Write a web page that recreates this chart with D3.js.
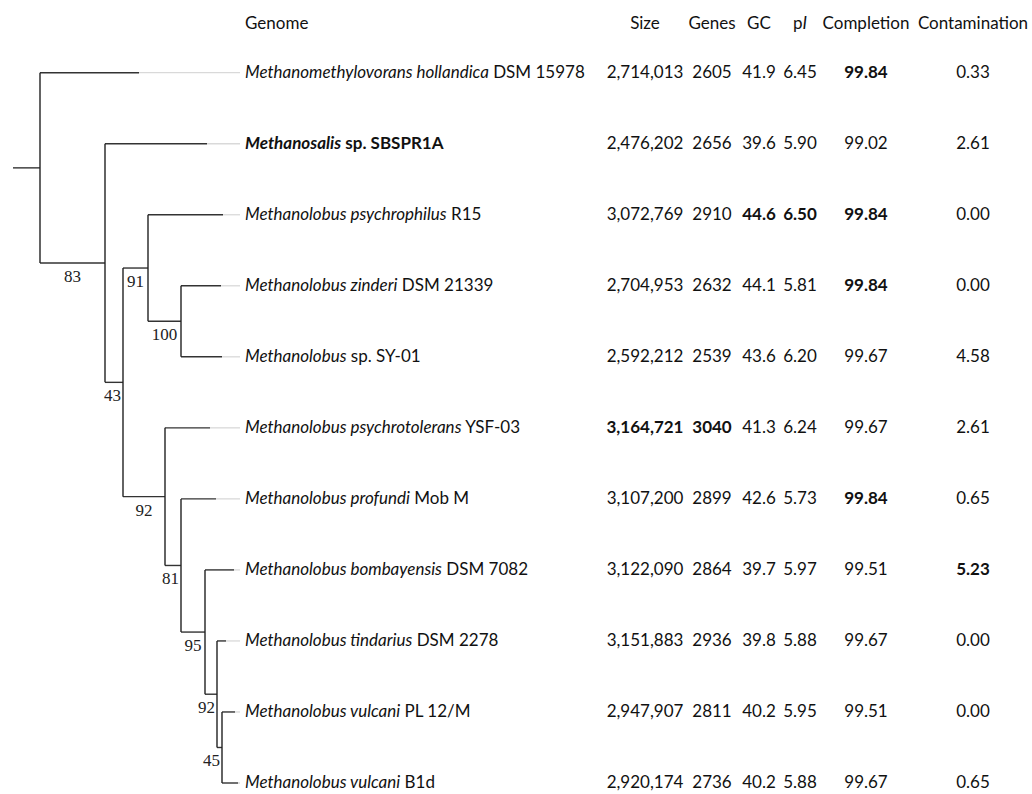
<!DOCTYPE html>
<html>
<head>
<meta charset="utf-8">
<script src="https://cdn.jsdelivr.net/npm/d3@7"></script>
<style>
  body { margin: 0; background: #fff; }
  svg { display: block; }
</style>
</head>
<body>
<svg id="chart" width="1032" height="794"></svg>
<script>
// genome table, one entry per leaf, top to bottom
genus   = ["Methanomethylovorans hollandica", "Methanosalis", "Methanolobus psychrophilus", "Methanolobus zinderi",
           "Methanolobus", "Methanolobus psychrotolerans", "Methanolobus profundi", "Methanolobus bombayensis",
           "Methanolobus tindarius", "Methanolobus vulcani", "Methanolobus vulcani"]
strain  = ["DSM 15978", "sp. SBSPR1A", "R15", "DSM 21339", "sp. SY-01", "YSF-03", "Mob M", "DSM 7082", "DSM 2278", "PL 12/M", "B1d"]
sizes   = [2714013, 2476202, 3072769, 2704953, 2592212, 3164721, 3107200, 3122090, 3151883, 2947907, 2920174]
genes   = [2605, 2656, 2910, 2632, 2539, 3040, 2899, 2864, 2936, 2811, 2736]
gc      = [41.9, 39.6, 44.6, 44.1, 43.6, 41.3, 42.6, 39.7, 39.8, 40.2, 40.2]
pI      = [6.45, 5.90, 6.50, 5.81, 6.20, 6.24, 5.73, 5.97, 5.88, 5.95, 5.88]
completion    = [99.84, 99.02, 99.84, 99.84, 99.67, 99.67, 99.84, 99.51, 99.67, 99.51, 99.67]
contamination = [0.33, 2.61, 0.00, 0.00, 4.58, 2.61, 0.65, 5.23, 0.00, 0.00, 0.65]
highlight = 1   // the new genome, printed in bold

// tree: node ids, parents, branch lengths, bootstrap support
nodeIds   = ["root", "L0", "A", "L1", "B", "C", "L2", "E", "L3", "L4", "F", "L5", "G", "L6", "H", "L7", "I", "L8", "J", "L9", "L10"]
parentIds = ["",     "root", "root", "A", "A", "B", "C", "C", "E", "E", "B", "F", "F", "G", "G", "H", "H", "I", "I", "J", "J"]
branchLen = [0.027, 0.099, 0.065, 0.102, 0.018, 0.025, 0.075, 0.033, 0.040, 0.041, 0.042, 0.045, 0.016, 0.035, 0.024, 0.029, 0.012, 0.009, 0.005, 0.013, 0.016]
support   = [null, null, 83, null, 43, 91, null, 100, null, null, 92, null, 81, null, 95, null, 92, null, 45, null, null]

headers = ["Size", "Genes", "GC", "pI", "Completion", "Contamination"]

width = 1032
height = 794
svg = d3.select("#chart")

sans = "Lato, 'Open Sans', sans-serif"
serif = "'Liberation Serif', 'DejaVu Serif', serif"

// build the tree
rows = nodeIds.map((id, i) => ({id: id, parent: parentIds[i], len: branchLen[i], support: support[i]}))
root = d3.stratify().id(d => d.id).parentId(d => d.parent || null)(rows)

root.eachBefore(d => { d.dist = (d.parent ? d.parent.dist : 0) + d.data.len })

xScale = d3.scaleLinear().domain([0, 0.227]).range([13, 240])
yScale = d3.scaleLinear().domain([0, genus.length - 1]).range([72.7, 783])

leafOrder = ["L0", "L1", "L2", "L3", "L4", "L5", "L6", "L7", "L8", "L9", "L10"]
root.leaves().forEach(d => { d.row = leafOrder.indexOf(d.id); d.y = yScale(d.row) })
root.eachAfter(d => {
    if(d.children){
        d.children.sort((a, b) => a.y - b.y)
        d.y = (d.children[0].y + d.children[d.children.length-1].y) / 2
    }
})

guideEnd = 240

tree = svg.append("g")

// grey guides from leaf tips to the names
tree.selectAll("line.guide")
    .data(root.leaves())
    .join("line")
    .attr("class", "guide")
    .attr("x1", d => xScale(d.dist))
    .attr("x2", guideEnd)
    .attr("y1", d => d.y).attr("y2", d => d.y)
    .attr("stroke", "#d9d9d9")
    .attr("stroke-width", 1.3)

// horizontal branches (root stem included)
tree.selectAll("line.branch")
    .data(root.descendants())
    .join("line")
    .attr("class", "branch")
    .attr("x1", d => xScale(d.parent ? d.parent.dist : 0))
    .attr("x2", d => xScale(d.dist))
    .attr("y1", d => d.y).attr("y2", d => d.y)
    .attr("stroke", "#333")
    .attr("stroke-width", 1.4)

// vertical connectors
tree.selectAll("line.connector")
    .data(root.descendants().filter(d => d.children))
    .join("line")
    .attr("class", "connector")
    .attr("x1", d => xScale(d.dist)).attr("x2", d => xScale(d.dist))
    .attr("y1", d => d.children[0].y)
    .attr("y2", d => d.children[d.children.length-1].y)
    .attr("stroke", "#222")
    .attr("stroke-width", 1.4)

// support values under the incoming branch
tree.selectAll("text.support")
    .data(root.descendants().filter(d => d.data.support != null))
    .join("text")
    .attr("class", "support")
    .attr("font-family", serif)
    .attr("font-size", 17)
    .attr("fill", "#222")
    .attr("y", d => d.y + 19)
    .attr("text-anchor", "middle")
    .text(d => d.data.support)
    .each(function(d){
        w = this.getComputedTextLength()
        mid = (xScale(d.parent.dist) + xScale(d.dist)) / 2
        d3.select(this).attr("x", Math.min(mid, xScale(d.dist) - 2 - w/2))
    })

// table
nameX = 245
colX = [645, 712, 759, 800, 866, 973]
headY = 29
fs = 17

svg.append("text")
    .attr("x", nameX).attr("y", headY)
    .attr("font-family", sans).attr("font-size", fs).attr("fill", "#111")
    .text("Genome")

svg.selectAll("text.head")
    .data(headers)
    .join("text")
    .attr("class", "head")
    .attr("x", (d, i) => colX[i]).attr("y", headY)
    .attr("text-anchor", "middle")
    .attr("font-family", sans).attr("font-size", fs).attr("fill", "#111")
    .each(function(d){
        if(d == "pI"){
            t = d3.select(this)
            t.append("tspan").text("p")
            t.append("tspan").attr("font-style", "italic").text("I")
        } else {
            d3.select(this).text(d)
        }
    })

names = svg.selectAll("text.name")
    .data(genus)
    .join("text")
    .attr("class", "name")
    .attr("x", nameX)
    .attr("y", (d, i) => yScale(i) + 5)
    .attr("font-family", sans).attr("font-size", fs).attr("fill", "#111")
    .attr("font-weight", (d, i) => i == highlight ? "bold" : "normal")

names.append("tspan").attr("font-style", "italic").text(d => d)
names.append("tspan").text((d, i) => " " + strain[i])

columns = [
    {vals: sizes, fmt: d3.format(",")},
    {vals: genes, fmt: d3.format("d")},
    {vals: gc, fmt: d3.format(".1f")},
    {vals: pI, fmt: d3.format(".2f")},
    {vals: completion, fmt: d3.format(".2f")},
    {vals: contamination, fmt: d3.format(".2f")}
]

// the best value of each column is set in bold
columns.forEach((col, c) => {
    best = d3.max(col.vals)
    svg.append("g").selectAll("text")
        .data(col.vals)
        .join("text")
        .attr("x", colX[c])
        .attr("y", (d, i) => yScale(i) + 5)
        .attr("text-anchor", "middle")
        .attr("font-family", sans).attr("font-size", fs).attr("fill", "#111")
        .attr("font-weight", d => d == best ? "bold" : "normal")
        .text(d => col.fmt(d))
})
</script>
</body>
</html>
